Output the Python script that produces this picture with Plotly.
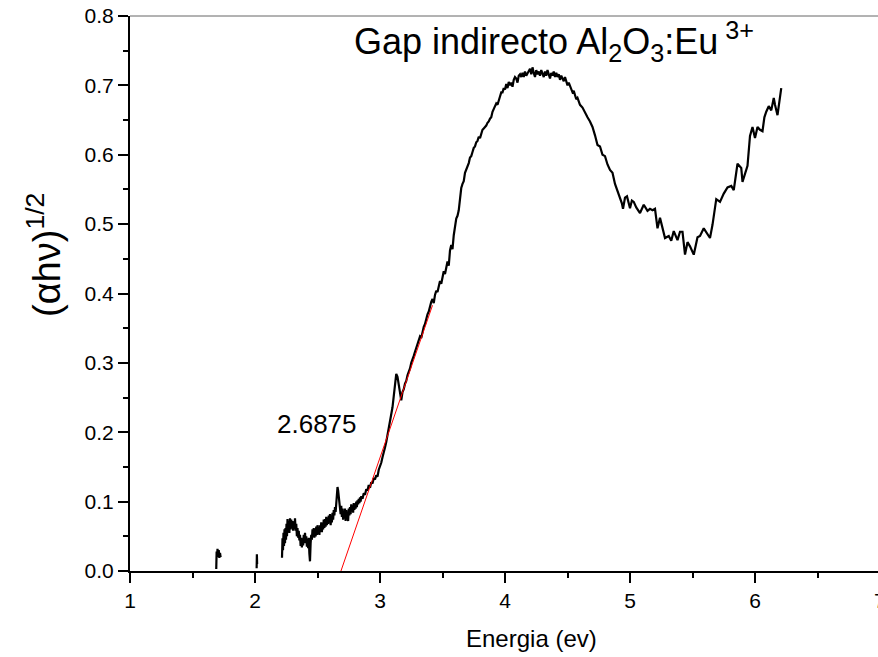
import plotly.graph_objects as go

# ---- data ----
seg_a_x = [1.690, 1.693, 1.697, 1.700, 1.705, 1.710, 1.715, 1.720, 1.725]
seg_a_y = [0.003, 0.028, 0.020, 0.032, 0.022, 0.030, 0.019, 0.026, 0.020]

seg_b_x = [2.013, 2.015, 2.017]
seg_b_y = [0.004, 0.024, 0.010]

seg_c_x = [
    2.216, 2.220, 2.224, 2.228, 2.232, 2.236, 2.240, 2.244, 2.248, 2.252, 2.256, 2.260, 2.265, 2.270, 2.275,
    2.280, 2.285, 2.290, 2.295, 2.300, 2.305, 2.310, 2.315, 2.320, 2.325, 2.330, 2.335, 2.340, 2.345, 2.350,
    2.355, 2.360, 2.365, 2.370, 2.375, 2.380, 2.385, 2.390, 2.395, 2.400, 2.405, 2.410, 2.415, 2.420, 2.425,
    2.430, 2.435, 2.440, 2.445, 2.450, 2.455, 2.460, 2.465, 2.470, 2.475, 2.480, 2.485, 2.490, 2.495, 2.500,
    2.505, 2.510, 2.515, 2.520, 2.525, 2.530, 2.535, 2.540, 2.545, 2.550, 2.555, 2.560, 2.565, 2.570, 2.575,
    2.580, 2.585, 2.590, 2.595, 2.600, 2.605, 2.610, 2.615, 2.620, 2.625, 2.630, 2.635, 2.640, 2.645, 2.650,
    2.655, 2.660, 2.665, 2.670, 2.675, 2.680, 2.685, 2.690, 2.695, 2.700, 2.705, 2.710, 2.715, 2.720, 2.725,
    2.730, 2.735, 2.740, 2.745, 2.750, 2.755, 2.760, 2.765, 2.770, 2.775, 2.780, 2.785, 2.790, 2.795, 2.800,
    2.805, 2.810, 2.815, 2.820, 2.825, 2.830, 2.835, 2.840, 2.845, 2.850, 2.860, 2.870, 2.880, 2.890, 2.900,
    2.910, 2.920, 2.930, 2.940, 2.950, 2.960, 2.970, 2.980, 2.990, 3.000, 3.010, 3.020, 3.030, 3.040, 3.050,
    3.060, 3.070, 3.080, 3.090, 3.100, 3.110, 3.120, 3.130, 3.140, 3.150, 3.160, 3.170, 3.180, 3.190, 3.200,
    3.210, 3.220, 3.230, 3.240, 3.250, 3.260, 3.270, 3.280, 3.290, 3.300, 3.310, 3.320, 3.330, 3.340, 3.350,
    3.360, 3.370, 3.380, 3.390, 3.400, 3.410, 3.420, 3.430, 3.440, 3.450, 3.460, 3.470, 3.480, 3.490, 3.500,
    3.510, 3.520, 3.530, 3.540, 3.550, 3.560, 3.570, 3.580, 3.590, 3.600, 3.610, 3.620, 3.630, 3.640, 3.650,
    3.660, 3.670, 3.680, 3.690, 3.700, 3.710, 3.720, 3.730, 3.740, 3.750, 3.760, 3.770, 3.780, 3.790, 3.800,
    3.810, 3.820, 3.830, 3.840, 3.850, 3.860, 3.870, 3.880, 3.890, 3.900, 3.910, 3.920, 3.930, 3.940, 3.950,
    3.960, 3.970, 3.980, 3.990, 4.000, 4.010, 4.020, 4.030, 4.040, 4.050, 4.060, 4.070, 4.080, 4.090, 4.100,
    4.110, 4.120, 4.130, 4.140, 4.150, 4.160, 4.170, 4.180, 4.190, 4.200, 4.210, 4.220, 4.230, 4.240, 4.250,
    4.260, 4.270, 4.280, 4.290, 4.300, 4.310, 4.320, 4.330, 4.340, 4.350, 4.360, 4.370, 4.380, 4.390, 4.400,
    4.410, 4.420, 4.430, 4.440, 4.450, 4.460, 4.470, 4.480, 4.490, 4.500, 4.510, 4.520, 4.530, 4.540, 4.550,
    4.560, 4.570, 4.580, 4.590, 4.600, 4.620, 4.640, 4.660, 4.680, 4.700, 4.720, 4.740, 4.760, 4.780, 4.800,
    4.820, 4.840, 4.860, 4.880, 4.900, 4.920, 4.935, 4.944, 4.960, 4.976, 4.990, 5.000, 5.015, 5.030, 5.050,
    5.080, 5.110, 5.140, 5.160, 5.180, 5.200, 5.220, 5.240, 5.260, 5.280, 5.310, 5.330, 5.350, 5.380, 5.400,
    5.420, 5.440, 5.460, 5.480, 5.510, 5.540, 5.560, 5.590, 5.620, 5.640, 5.660, 5.690, 5.720, 5.750, 5.780,
    5.810, 5.830, 5.860, 5.890, 5.900, 5.940, 5.960, 5.980, 6.000, 6.020, 6.040, 6.060, 6.075, 6.090, 6.110,
    6.130, 6.150, 6.160, 6.180, 6.210,
]
seg_c_y = [
    0.019, 0.047, 0.030, 0.055, 0.036, 0.060, 0.040, 0.062, 0.045, 0.068, 0.050, 0.075, 0.058, 0.072, 0.055,
    0.076, 0.060, 0.074, 0.062, 0.072, 0.058, 0.070, 0.062, 0.076, 0.058, 0.068, 0.050, 0.062, 0.048, 0.058,
    0.044, 0.052, 0.036, 0.048, 0.034, 0.046, 0.037, 0.052, 0.040, 0.055, 0.042, 0.050, 0.035, 0.045, 0.033,
    0.048, 0.025, 0.014, 0.040, 0.052, 0.045, 0.060, 0.050, 0.062, 0.048, 0.058, 0.050, 0.064, 0.052, 0.066,
    0.055, 0.062, 0.052, 0.066, 0.058, 0.070, 0.056, 0.068, 0.060, 0.074, 0.062, 0.075, 0.064, 0.078, 0.066,
    0.074, 0.068, 0.080, 0.070, 0.082, 0.066, 0.078, 0.070, 0.084, 0.074, 0.088, 0.080, 0.092, 0.085, 0.098,
    0.110, 0.121, 0.116, 0.104, 0.096, 0.092, 0.082, 0.094, 0.078, 0.090, 0.074, 0.086, 0.076, 0.090, 0.072,
    0.088, 0.074, 0.084, 0.072, 0.090, 0.080, 0.092, 0.082, 0.096, 0.086, 0.094, 0.084, 0.098, 0.088, 0.096,
    0.090, 0.100, 0.092, 0.102, 0.096, 0.104, 0.098, 0.106, 0.100, 0.108, 0.104, 0.112, 0.110, 0.118, 0.116,
    0.124, 0.120, 0.128, 0.126, 0.134, 0.132, 0.138, 0.136, 0.146, 0.150, 0.156, 0.164, 0.170, 0.178, 0.186,
    0.196, 0.204, 0.216, 0.226, 0.236, 0.252, 0.270, 0.284, 0.280, 0.266, 0.254, 0.246, 0.258, 0.262, 0.270,
    0.274, 0.282, 0.286, 0.292, 0.300, 0.304, 0.310, 0.316, 0.322, 0.326, 0.332, 0.338, 0.336, 0.346, 0.352,
    0.356, 0.364, 0.370, 0.374, 0.382, 0.388, 0.392, 0.386, 0.398, 0.404, 0.402, 0.410, 0.418, 0.414, 0.426,
    0.432, 0.428, 0.438, 0.446, 0.440, 0.462, 0.470, 0.464, 0.484, 0.496, 0.508, 0.512, 0.520, 0.536, 0.552,
    0.558, 0.562, 0.574, 0.578, 0.582, 0.588, 0.596, 0.598, 0.604, 0.610, 0.612, 0.618, 0.620, 0.626, 0.624,
    0.632, 0.636, 0.638, 0.640, 0.642, 0.646, 0.648, 0.652, 0.654, 0.662, 0.666, 0.668, 0.674, 0.672, 0.680,
    0.684, 0.690, 0.690, 0.696, 0.694, 0.702, 0.696, 0.705, 0.700, 0.704, 0.698, 0.708, 0.712, 0.710, 0.704,
    0.714, 0.716, 0.712, 0.718, 0.712, 0.720, 0.714, 0.718, 0.722, 0.724, 0.716, 0.726, 0.718, 0.712, 0.722,
    0.716, 0.720, 0.714, 0.722, 0.716, 0.712, 0.720, 0.714, 0.722, 0.716, 0.710, 0.718, 0.714, 0.720, 0.712,
    0.718, 0.712, 0.716, 0.708, 0.714, 0.710, 0.706, 0.712, 0.706, 0.700, 0.704, 0.700, 0.694, 0.690, 0.692,
    0.684, 0.680, 0.682, 0.676, 0.672, 0.668, 0.660, 0.654, 0.648, 0.640, 0.628, 0.614, 0.612, 0.600, 0.598,
    0.586, 0.578, 0.574, 0.558, 0.548, 0.540, 0.530, 0.522, 0.538, 0.540, 0.528, 0.523, 0.534, 0.532, 0.524,
    0.516, 0.528, 0.519, 0.522, 0.520, 0.522, 0.494, 0.509, 0.494, 0.480, 0.483, 0.476, 0.490, 0.477, 0.489,
    0.489, 0.456, 0.474, 0.468, 0.456, 0.481, 0.483, 0.494, 0.486, 0.480, 0.499, 0.536, 0.532, 0.544, 0.553,
    0.555, 0.549, 0.587, 0.581, 0.561, 0.584, 0.627, 0.640, 0.624, 0.640, 0.636, 0.634, 0.654, 0.662, 0.670,
    0.664, 0.682, 0.672, 0.657, 0.696,
]

fit_x = [2.6875, 3.42]
fit_y = [0.0, 0.383]

gap_value = 2.6875
gap_label_x = 2.496
gap_label_y = 0.212

x_ticks = [1, 2, 3, 4, 5, 6]
y_ticks = [0.0, 0.1, 0.2, 0.3, 0.4, 0.5, 0.6, 0.7, 0.8]

# gaps between segments (undefined values) are kept as None
curve_x = seg_a_x + [None] + seg_b_x + [None] + seg_c_x
curve_y = seg_a_y + [None] + seg_b_y + [None] + seg_c_y

FONT = "Liberation Sans, Arial, sans-serif"

# plot area in pixels: left 130, width 748, bottom 571, height 555
def px_x(p):
    return (p - 130) / 748

def px_y(p):
    return (571 - p) / 555

fig = go.Figure()
fig.add_trace(go.Scatter(x=curve_x, y=curve_y, mode="lines",
                         line=dict(color="black", width=2.2), connectgaps=False,
                         showlegend=False, hoverinfo="skip"))
fig.add_trace(go.Scatter(x=fit_x, y=fit_y, mode="lines",
                         line=dict(color="red", width=1), showlegend=False, hoverinfo="skip"))

fig.update_layout(
    width=878, height=657,
    margin=dict(l=130, r=0, t=16, b=86),
    paper_bgcolor="white", plot_bgcolor="white",
    font=dict(family=FONT, color="black"),
    xaxis=dict(
        range=[1, 6.984], tickvals=x_ticks, ticktext=[str(v) for v in x_ticks],
        showgrid=False, zeroline=False, showline=True, linecolor="black", linewidth=2,
        ticks="outside", ticklen=10, tickwidth=2, tickcolor="black",
        tickfont=dict(size=21, family=FONT),
        minor=dict(dtick=0.5, tick0=1, ticks="outside", ticklen=5, tickwidth=2, tickcolor="black"),
    ),
    yaxis=dict(
        range=[0, 0.8], tickvals=y_ticks, ticktext=[f"{v:.1f}" for v in y_ticks],
        showgrid=False, zeroline=False, showline=True, linecolor="black", linewidth=2,
        ticks="outside", ticklen=10, tickwidth=2, tickcolor="black",
        tickfont=dict(size=21, family=FONT),
        minor=dict(dtick=0.05, tick0=0, ticks="outside", ticklen=5, tickwidth=2, tickcolor="black"),
    ),
    shapes=[dict(type="line", xref="paper", yref="paper", x0=0, x1=1, y0=1, y1=1,
                 line=dict(color="#666666", width=1))],
    annotations=[
        dict(text="Gap indirecto Al<sub>2</sub>O<sub>3</sub>:Eu<sup> 3+</sup>",
             xref="paper", yref="paper", x=px_x(554), y=px_y(42),
             xanchor="center", yanchor="middle", showarrow=False,
             font=dict(size=36, family=FONT)),
        dict(text=f"{gap_value}", x=gap_label_x, y=gap_label_y, xref="x", yref="y",
             showarrow=False, font=dict(size=26, family=FONT)),
        dict(text="(αhν)<sup>1/2</sup>", xref="paper", yref="paper",
             x=px_x(44), y=px_y(255), textangle=-90,
             xanchor="center", yanchor="middle", showarrow=False,
             font=dict(size=38, family=FONT)),
        dict(text="Energia (ev)", xref="paper", yref="paper",
             x=px_x(531), y=px_y(638), xanchor="center", yanchor="middle",
             showarrow=False, font=dict(size=24, family=FONT)),
        dict(text="7", xref="paper", yref="paper", x=px_x(880), y=px_y(600),
             xanchor="center", yanchor="middle", showarrow=False,
             font=dict(size=21, family=FONT)),
    ],
)

fig.write_html("out.html")
